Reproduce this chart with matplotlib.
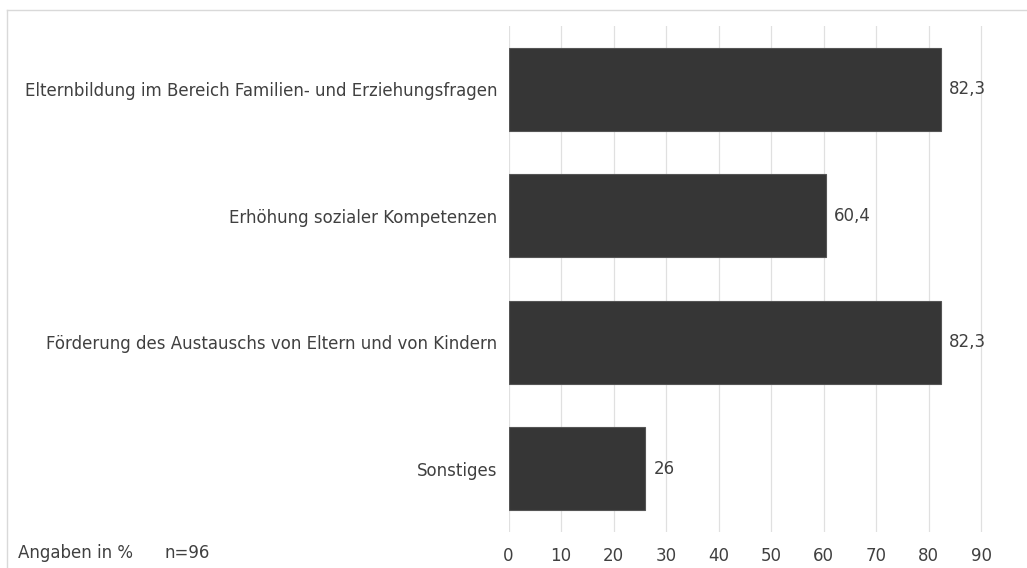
import matplotlib.pyplot as plt
from matplotlib.lines import Line2D

categories = [
    "Elternbildung im Bereich Familien- und Erziehungsfragen",
    "Erhöhung sozialer Kompetenzen",
    "Förderung des Austauschs von Eltern und von Kindern",
    "Sonstiges",
]
values = [82.3, 60.4, 82.3, 26]
labels = ["82,3", "60,4", "82,3", "26"]
ticks = list(range(0, 100, 10))

plt.rcParams['font.family'] = ['DejaVu Sans']
txt = "#404040"
fs = 12

fig = plt.figure(figsize=(10.27, 5.68), dpi=100)
ax = fig.add_axes([508.5/1027, 1-532/568, (982.7-508.5)/1027, (532-26)/568])

y = list(range(len(categories)))
ax.barh(y, values, height=0.66, color="#363636", edgecolor="#555555", linewidth=0.8, zorder=3)
for yi, v, lab in zip(y, values, labels):
    ax.text(v + 1.6, yi, lab, va="center", ha="left", fontsize=fs, color=txt)

ax.set_ylim(3.5, -0.5)
ax.set_xlim(0, 90.3)
ax.set_yticks(y)
ax.set_yticklabels(categories, fontsize=fs, color=txt)
ax.set_xticks(ticks)
ax.set_xticklabels([str(t) for t in ticks], fontsize=fs, color=txt)
ax.tick_params(axis="both", length=0)
ax.tick_params(axis="y", pad=8)
ax.tick_params(axis="x", pad=11)
ax.grid(axis="x", color="#e0e0e0", linewidth=0.9, zorder=0)
for s in ax.spines.values():
    s.set_visible(False)

fig.text(18/1027, 1-553/568, "Angaben in %", fontsize=fs, color=txt, va="center")
fig.text(165/1027, 1-553/568, "n=96", fontsize=fs, color=txt, va="center")

# outer frame
fig.add_artist(Line2D([7/1027, 1], [1-10/568, 1-10/568], color="#d9d9d9", lw=1))
fig.add_artist(Line2D([7/1027, 7/1027], [0, 1-10/568], color="#d9d9d9", lw=1))

fig.savefig("out.png", dpi=100)
